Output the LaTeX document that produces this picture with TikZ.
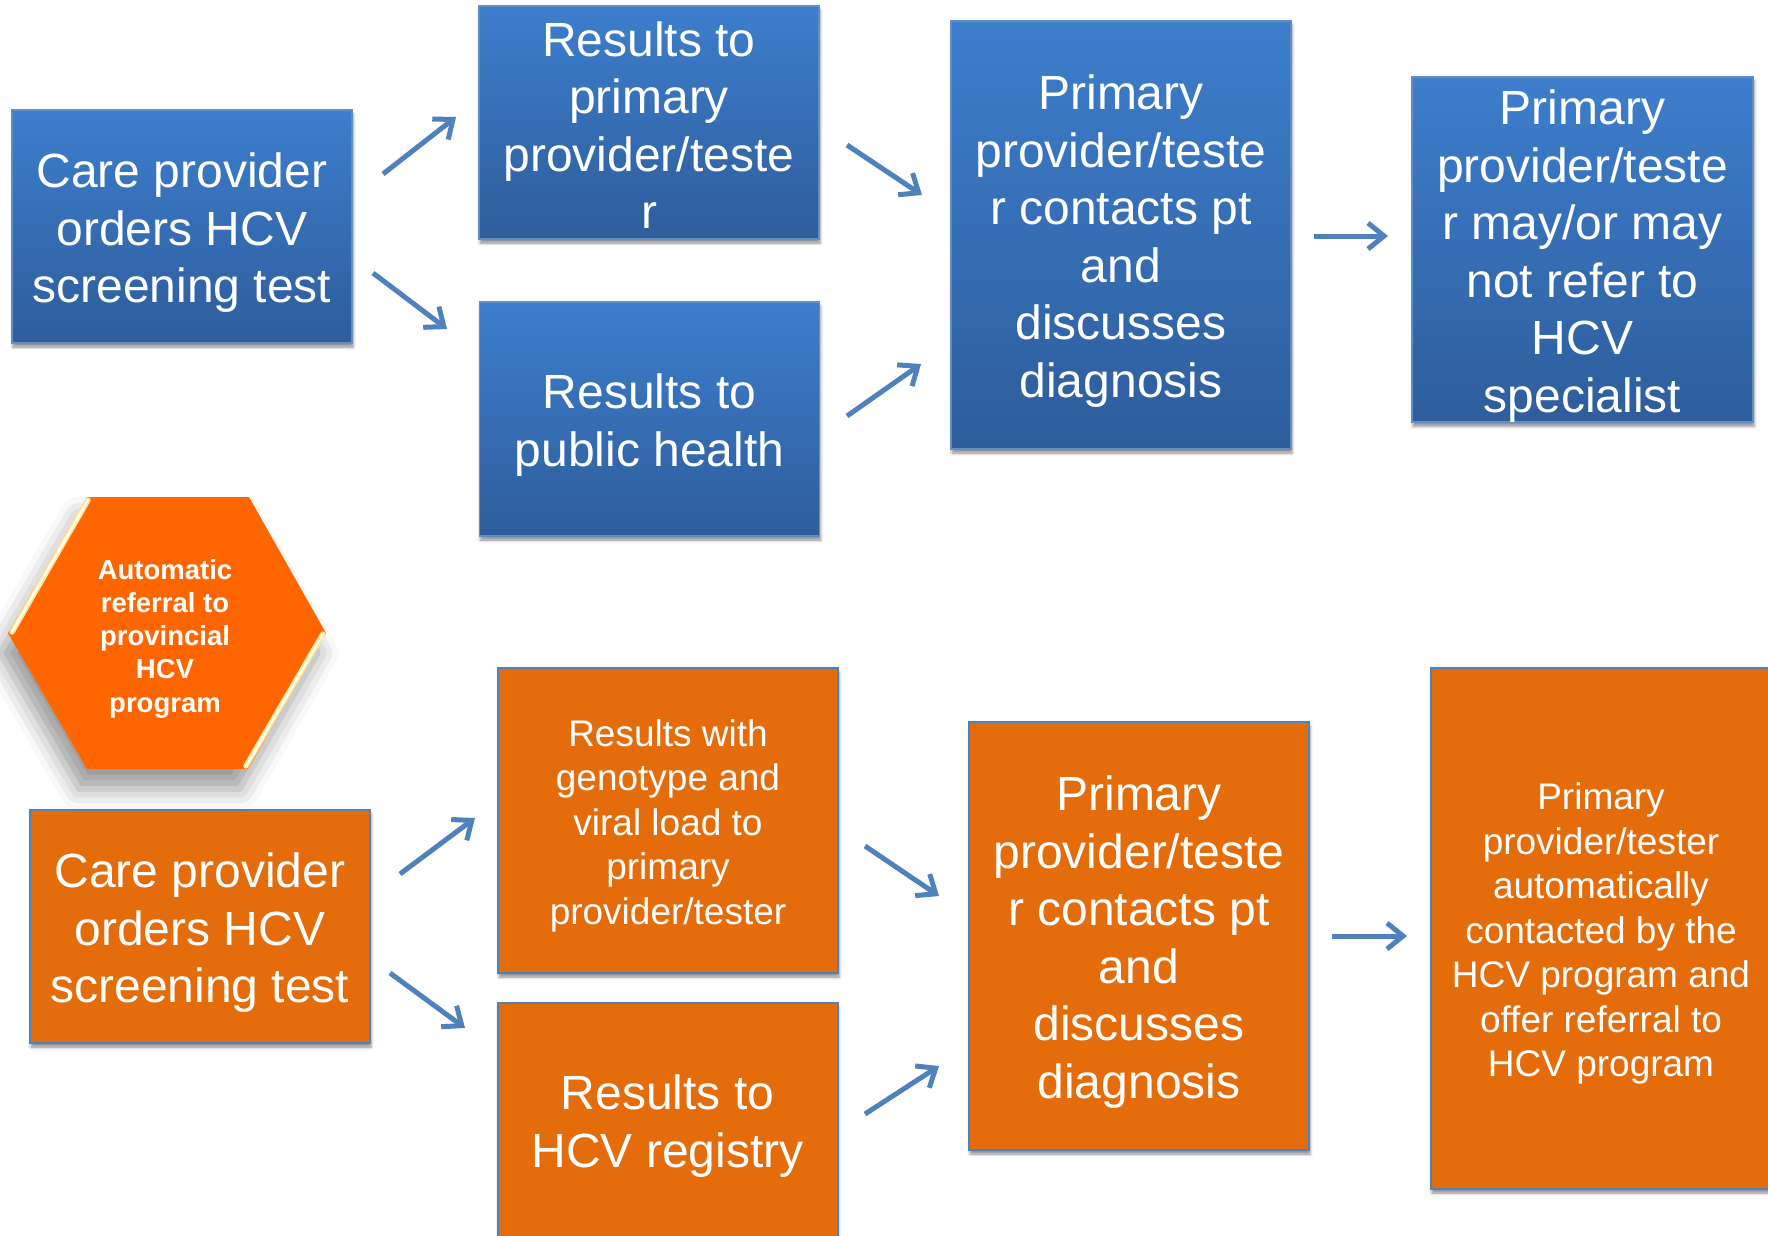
\documentclass[tikz,border=0pt]{standalone}
\usepackage{fontspec}
\setmainfont{Liberation Sans}
\usetikzlibrary{arrows.meta,shadows.blur}

\definecolor{accblue}{RGB}{79,129,189}
\definecolor{bluetop}{RGB}{61,126,205}
\definecolor{bluebot}{RGB}{46,93,155}
\definecolor{boxorange}{RGB}{228,108,10}
\definecolor{hexorange}{RGB}{255,102,0}
\definecolor{bevel}{RGB}{255,232,150}

% invisible strut that sets the height of a first text line
\newcommand{\firstline}[1]{\rule{0pt}{#1}}

\tikzset{
  box/.style={rectangle, inner sep=0pt, minimum width=340pt, align=center,
    text=white, font=\fontsize{48}{57.5}\selectfont},
  boxshadow/.style={blur shadow={shadow xshift=1pt, shadow yshift=-4pt,
    shadow blur radius=3pt, shadow opacity=45}},
  bluebox/.style={box, boxshadow, draw=accblue!90!white, line width=1.5pt,
    top color=bluetop, bottom color=bluebot},
  orangebox/.style={box, boxshadow, draw=accblue, line width=2pt, fill=boxorange},
  smalltext/.style={font=\fontsize{37}{44.5}\selectfont},
  hexshape/.style={fill=hexorange, blur shadow={shadow xshift=-8pt,
    shadow yshift=-20pt, shadow blur radius=20pt, shadow opacity=40}},
  hexedge/.style={line width=5.5pt, draw=bevel},
  hexcore/.style={line width=2pt, draw=white},
  hextext/.style={text=white, align=center,
    font=\fontsize{27.5}{33.3}\selectfont\bfseries},
  conn/.style={draw=accblue, line width=5pt,
    -{Straight Barb[length=16pt,width=26pt]}},
}

\begin{document}
\begin{tikzpicture}[x=1pt,y=-1pt]
\useasboundingbox (0,0) rectangle (1768,1235);
\clip (0,0) rectangle (1768,1235);

% ---- upper pathway: results to public health ----
\node[bluebox, minimum height=233pt] (A) at (182,226.5)
  {\firstline{47pt}Care provider\\orders HCV\\screening test};
\node[bluebox, minimum height=233pt] (B) at (649,122.5)
  {\firstline{40pt}Results to\\primary\\provider/teste\\r};
\node[bluebox, minimum height=234pt] (C) at (649.5,419)
  {\firstline{47pt}Results to\\public health};
\node[bluebox, minimum height=428pt] (D) at (1121,235)
  {\firstline{47pt}Primary\\provider/teste\\r contacts pt\\and\\discusses\\diagnosis};
\node[bluebox, minimum height=343pt, minimum width=341pt] (E) at (1582.5,249.5)
  {\firstline{48pt}Primary\\provider/teste\\r may/or may\\not refer to\\HCV\\specialist};

% ---- hexagon callout ----
\path[hexshape] (87,497) -- (249,497) -- (326,633) -- (248,769)
  -- (87,769) -- (8,633) -- cycle;
\draw[hexedge, line cap=round] (12,632) -- (88,500);
\draw[hexcore, line cap=round] (12,632) -- (88,500);
\draw[hexedge, line cap=round] (323,634) -- (246,766);
\draw[hexcore, line cap=round] (323,634) -- (246,766);
\node[hextext] (hexlabel) at (165,636)
  {\firstline{25pt}Automatic\\referral to\\provincial\\HCV\\program};

% ---- lower pathway: results to HCV registry ----
\node[orangebox, minimum height=233pt] (F) at (200,926.5)
  {\firstline{47pt}Care provider\\orders HCV\\screening test};
\node[orangebox, smalltext, minimum height=305pt] (G) at (668,820.5)
  {\firstline{37pt}Results with\\genotype and\\viral load to\\primary\\provider/tester};
\node[orangebox, minimum height=240pt] (H) at (667.5,1123)
  {\firstline{41pt}Results to\\HCV registry};
\node[orangebox, minimum height=428pt] (I) at (1139,936)
  {\firstline{47pt}Primary\\provider/teste\\r contacts pt\\and\\discusses\\diagnosis};
\node[orangebox, smalltext, minimum height=521pt] (J) at (1601,928.5)
  {\firstline{37pt}Primary\\provider/tester\\automatically\\contacted by the\\HCV program and\\offer referral to\\HCV program};

% ---- arrow end points ----
\coordinate (ab0) at (383,174);  \coordinate (ab1) at (456,117);
\coordinate (ac0) at (373,273);  \coordinate (ac1) at (447,329);
\coordinate (bd0) at (847,145);  \coordinate (bd1) at (922,195);
\coordinate (cd0) at (847,416);  \coordinate (cd1) at (921,364);
\coordinate (de0) at (1314,236); \coordinate (de1) at (1388,236);
\coordinate (fg0) at (400,874);  \coordinate (fg1) at (475,818);
\coordinate (fh0) at (390,973);  \coordinate (fh1) at (465,1028);
\coordinate (gi0) at (865,846);  \coordinate (gi1) at (939,896);
\coordinate (hi0) at (865,1114); \coordinate (hi1) at (939,1066);
\coordinate (ij0) at (1332,936); \coordinate (ij1) at (1407,936);

\draw[conn] (ab0) -- (ab1);
\draw[conn] (ac0) -- (ac1);
\draw[conn] (bd0) -- (bd1);
\draw[conn] (cd0) -- (cd1);
\draw[conn] (de0) -- (de1);
\draw[conn] (fg0) -- (fg1);
\draw[conn] (fh0) -- (fh1);
\draw[conn] (gi0) -- (gi1);
\draw[conn] (hi0) -- (hi1);
\draw[conn] (ij0) -- (ij1);
\end{tikzpicture}
\end{document}
